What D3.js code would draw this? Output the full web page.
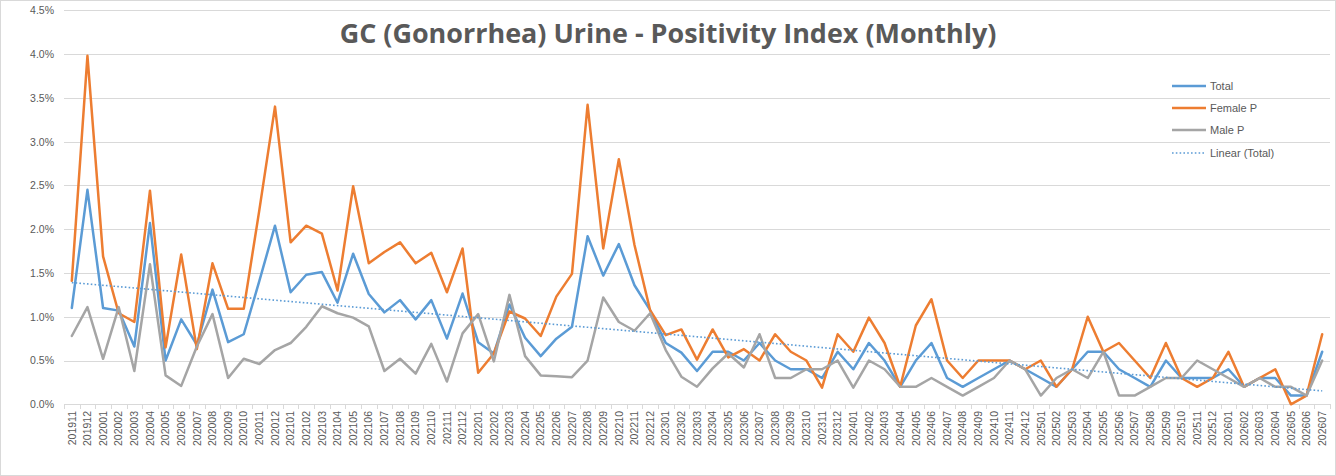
<!DOCTYPE html>
<html><head><meta charset="utf-8">
<script src="https://cdn.jsdelivr.net/npm/d3@7"></script>
<style>body{margin:0;background:#fff}svg{display:block}text{font-family:"Liberation Sans",Arial,sans-serif}</style>
</head><body><svg id="c" width="1336" height="476"></svg>
<script>
const categories = ["201911","201912","202001","202002","202003","202004","202005","202006","202007","202008","202009","202010","202011","202012",
"202101","202102","202103","202104","202105","202106","202107","202108","202109","202110","202111","202112",
"202201","202202","202203","202204","202205","202206","202207","202208","202209","202210","202211","202212",
"202301","202302","202303","202304","202305","202306","202307","202308","202309","202310","202311","202312",
"202401","202402","202403","202404","202405","202406","202407","202408","202409","202410","202411","202412",
"202501","202502","202503","202504","202505","202506","202507","202508","202509","202510","202511","202512",
"202601","202602","202603","202604","202605","202606","202607"];
const total = [1.10,2.45,1.10,1.07,0.66,2.07,0.50,0.97,0.68,1.31,0.71,0.80,1.41,2.04,
1.28,1.48,1.51,1.16,1.72,1.26,1.05,1.19,0.97,1.19,0.75,1.265,
0.71,0.58,1.14,0.76,0.55,0.75,0.885,1.92,1.47,1.83,1.36,1.075,
0.70,0.59,0.38,0.60,0.60,0.50,0.70,0.50,0.40,0.40,0.30,0.60,
0.40,0.70,0.50,0.20,0.50,0.70,0.30,0.20,0.30,0.40,0.50,0.40,
0.30,0.20,0.40,0.60,0.60,0.40,0.30,0.20,0.50,0.30,0.30,0.30,
0.40,0.20,0.30,0.30,0.10,0.10,0.60];
const femaleP = [1.41,3.98,1.69,1.04,0.94,2.44,0.65,1.71,0.63,1.61,1.09,1.09,2.22,3.40,
1.85,2.04,1.95,1.30,2.49,1.61,1.74,1.85,1.61,1.73,1.28,1.78,
0.36,0.58,1.06,0.98,0.78,1.23,1.49,3.42,1.78,2.80,1.82,1.075,
0.79,0.855,0.51,0.855,0.535,0.63,0.50,0.80,0.60,0.50,0.19,0.80,
0.60,0.99,0.70,0.20,0.90,1.20,0.50,0.30,0.50,0.50,0.50,0.40,
0.50,0.20,0.40,1.00,0.60,0.70,0.50,0.30,0.70,0.30,0.20,0.30,
0.60,0.20,0.30,0.40,0.00,0.10,0.80];
const maleP = [0.78,1.11,0.52,1.11,0.38,1.60,0.33,0.21,0.66,1.03,0.30,0.52,0.46,0.62,
0.70,0.885,1.12,1.04,0.99,0.89,0.38,0.52,0.35,0.69,0.26,0.81,
1.03,0.49,1.25,0.55,0.33,0.32,0.31,0.50,1.22,0.94,0.84,1.04,
0.62,0.315,0.20,0.41,0.58,0.42,0.80,0.30,0.30,0.40,0.40,0.50,
0.19,0.50,0.40,0.20,0.20,0.30,0.20,0.10,0.20,0.30,0.50,0.40,
0.10,0.30,0.40,0.30,0.60,0.10,0.10,0.20,0.30,0.30,0.50,0.40,
0.30,0.20,0.30,0.20,0.20,0.10,0.50];
const yTicks = [0,0.5,1.0,1.5,2.0,2.5,3.0,3.5,4.0,4.5];
const seriesNames = ["Total","Female P","Male P"];
const trendName = "Linear (Total)";
const titleText = "GC (Gonorrhea) Urine - Positivity Index (Monthly)";

const svg = d3.select("#c");
const colors = ["#5B9BD5","#ED7D31","#A5A5A5"];
const grey = "#595959";

svg.append("rect").attr("x",0.5).attr("y",0.5).attr("width",1335).attr("height",475)
  .attr("fill","#fff").attr("stroke","#d9d9d9");

const x = d3.scaleBand().domain(categories).range([64,1330]).padding(0);
const y = d3.scaleLinear().domain([0,4.5]).range([404.3,10.3]);
const cx = d => x(d) + x.bandwidth()/2;

// gridlines
svg.append("g").selectAll("line").data(yTicks.filter(t=>t>0)).join("line")
  .attr("x1",64).attr("x2",1330).attr("y1",d=>Math.round(y(d))+0.5).attr("y2",d=>Math.round(y(d))+0.5)
  .attr("stroke","#d9d9d9").attr("stroke-width",1);

// y axis labels
const yAxis = d3.axisLeft(y).tickValues(yTicks).tickSize(0).tickPadding(0)
  .tickFormat(d=>d.toFixed(1)+"%");
const gy = svg.append("g").attr("transform","translate(54,0)").call(yAxis);
gy.select(".domain").remove();
gy.selectAll("text").attr("fill",grey).style("font-size","10.5px").attr("font-family","Liberation Sans, Arial, sans-serif");

// x axis
const gx = svg.append("g").attr("transform","translate(0,404)");
gx.append("line").attr("x1",64).attr("x2",1330).attr("y1",0.5).attr("y2",0.5).attr("stroke","#d9d9d9");
gx.selectAll("line.tk").data(categories.concat(["_end"])).join("line").attr("class","tk")
  .attr("x1",(d,i)=> Math.round(i<categories.length ? x(d) : 1330)+0.5)
  .attr("x2",(d,i)=> Math.round(i<categories.length ? x(d) : 1330)+0.5)
  .attr("y1",0).attr("y2",5).attr("stroke","#d9d9d9");
const xAxis = d3.axisBottom(x).tickSize(0).tickPadding(0);
const gxl = svg.append("g").attr("transform","translate(0,404)").call(xAxis);
gxl.select(".domain").remove();
gxl.selectAll("text")
  .attr("fill",grey).style("font-size","10.5px").attr("font-family","Liberation Sans, Arial, sans-serif")
  .attr("text-anchor","end").attr("dy","0.35em")
  .attr("transform","translate(0,7) rotate(-90)").attr("x",0).attr("y",0);

// lines
const line = d3.line().x((d,i)=>cx(categories[i])).y(d=>y(d));
[total,femaleP,maleP].forEach((s,k)=>{
  svg.append("path").datum(s).attr("d",line).attr("fill","none")
    .attr("stroke",colors[k]).attr("stroke-width",2.5).attr("stroke-linejoin","round").attr("stroke-linecap","round");
});

// linear trend of Total (least squares)
const n = total.length;
const xs = d3.range(1,n+1);
const mx = d3.mean(xs), my = d3.mean(total);
const slope = d3.sum(xs.map((v,i)=>(v-mx)*(total[i]-my))) / d3.sum(xs.map(v=>(v-mx)*(v-mx)));
const icpt = my - slope*mx;
svg.append("line")
  .attr("x1",cx(categories[0])).attr("y1",y(icpt+slope*1))
  .attr("x2",cx(categories[n-1])).attr("y2",y(icpt+slope*n))
  .attr("stroke","#5B9BD5").attr("stroke-width",1.6).attr("stroke-dasharray","1.6 2.2");

// title
const title = svg.append("text").attr("x",668).attr("y",43).attr("text-anchor","middle")
  .attr("fill",grey).attr("font-weight","bold").style("font-family","'Open Sans', sans-serif")
  .style("font-size","28px").text(titleText);
const tw = title.node().getComputedTextLength();
title.style("font-size",(28*657/tw).toFixed(2)+"px");

// legend
const leg = svg.append("g");
const legY = [86,108,130,153];
seriesNames.concat([trendName]).forEach((nm,i)=>{
  const g = leg.append("g").attr("transform",`translate(0,${legY[i]})`);
  const ln = g.append("line").attr("x1",1172).attr("x2",1206).attr("y1",0).attr("y2",0);
  if(i<3) ln.attr("stroke",colors[i]).attr("stroke-width",2.5);
  else ln.attr("stroke","#5B9BD5").attr("stroke-width",1.6).attr("stroke-dasharray","1.6 2.2");
  g.append("text").attr("x",1210).attr("y",0).attr("dy","0.35em").attr("fill",grey)
    .style("font-size","11px").text(nm);
});
</script></body></html>
